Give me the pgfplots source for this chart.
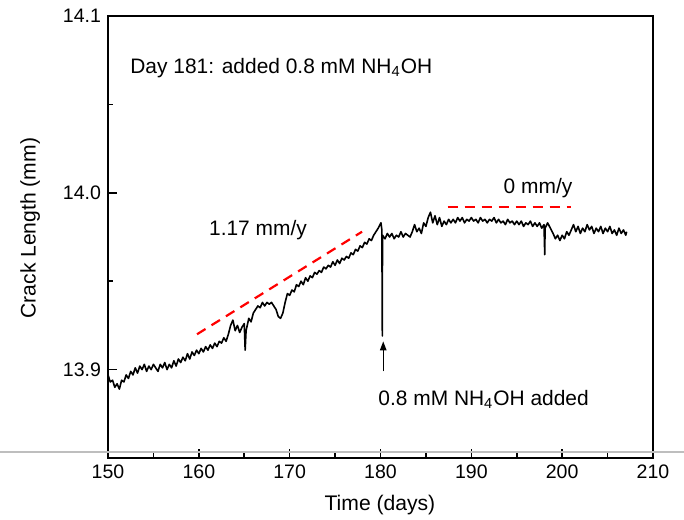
\documentclass[border=0pt]{standalone}
\usepackage{fontspec}
\setmainfont{Liberation Sans}
\usepackage{pgfplots}
\pgfplotsset{compat=1.18}
\usetikzlibrary{arrows.meta,calc}
\definecolor{rulegray}{RGB}{190,190,190}

\pgfplotstableread{
day len
150.00 13.897
150.25 13.893
150.50 13.894
150.75 13.890
151.00 13.892
151.25 13.889
151.50 13.894
151.75 13.893
152.00 13.897
152.25 13.895
152.50 13.899
152.75 13.897
153.00 13.901
153.25 13.898
153.50 13.902
153.75 13.900
154.00 13.903
154.25 13.899
154.50 13.902
154.75 13.900
155.00 13.903
155.25 13.901
155.50 13.899
155.75 13.903
156.00 13.901
156.25 13.904
156.50 13.900
156.75 13.903
157.00 13.901
157.25 13.905
157.50 13.902
157.75 13.906
158.00 13.904
158.25 13.907
158.50 13.905
158.75 13.909
159.00 13.906
159.25 13.910
159.50 13.908
159.75 13.911
160.00 13.909
160.25 13.912
160.50 13.910
160.75 13.913
161.00 13.911
161.25 13.914
161.50 13.912
161.75 13.915
162.00 13.913
162.25 13.916
162.50 13.915
162.75 13.918
163.00 13.916
163.25 13.920
163.50 13.925
163.75 13.928
164.00 13.922
164.25 13.925
164.50 13.921
164.75 13.924
165.00 13.926
165.10 13.911
165.20 13.922
165.50 13.929
165.75 13.927
166.00 13.932
166.25 13.934
166.50 13.936
166.75 13.935
167.00 13.938
167.25 13.936
167.50 13.938
167.75 13.937
168.00 13.938
168.25 13.936
168.50 13.934
168.75 13.930
169.00 13.929
169.25 13.932
169.50 13.938
169.75 13.943
170.00 13.942
170.25 13.945
170.50 13.944
170.75 13.948
171.00 13.947
171.25 13.950
171.50 13.948
171.75 13.952
172.00 13.950
172.25 13.953
172.50 13.952
172.75 13.955
173.00 13.954
173.25 13.956
173.50 13.955
173.75 13.958
174.00 13.957
174.25 13.959
174.50 13.958
174.75 13.961
175.00 13.959
175.25 13.962
175.50 13.960
175.75 13.963
176.00 13.962
176.25 13.964
176.50 13.963
176.75 13.966
177.00 13.965
177.25 13.968
177.50 13.967
177.75 13.970
178.00 13.969
178.25 13.972
178.50 13.971
178.75 13.974
179.00 13.973
179.25 13.976
179.50 13.978
179.75 13.980
180.05 13.983
180.15 13.979
180.20 13.919
180.22 13.976
180.50 13.974
180.75 13.977
181.00 13.975
181.25 13.977
181.50 13.974
181.75 13.976
182.00 13.975
182.25 13.978
182.50 13.975
182.75 13.977
183.00 13.976
183.25 13.975
183.50 13.978
183.75 13.982
184.00 13.978
184.25 13.980
184.50 13.977
184.75 13.983
185.00 13.981
185.25 13.986
185.50 13.989
185.75 13.983
186.00 13.987
186.25 13.982
186.50 13.986
186.75 13.981
187.00 13.984
187.25 13.982
187.50 13.985
187.75 13.983
188.00 13.985
188.25 13.983
188.50 13.986
188.75 13.984
189.00 13.986
189.25 13.983
189.50 13.985
189.75 13.984
190.00 13.986
190.25 13.984
190.50 13.985
190.75 13.983
191.00 13.986
191.25 13.984
191.50 13.985
191.75 13.983
192.00 13.985
192.25 13.984
192.50 13.986
192.75 13.983
193.00 13.985
193.25 13.983
193.50 13.984
193.75 13.982
194.00 13.985
194.25 13.983
194.50 13.984
194.75 13.982
195.00 13.984
195.25 13.982
195.50 13.984
195.75 13.981
196.00 13.983
196.25 13.982
196.50 13.984
196.75 13.981
197.00 13.983
197.25 13.981
197.50 13.983
197.75 13.980
198.00 13.982
198.08 13.965
198.12 13.980
198.40 13.983
198.60 13.981
198.80 13.979
199.00 13.977
199.25 13.974
199.50 13.976
199.75 13.973
200.00 13.976
200.25 13.974
200.50 13.978
200.75 13.976
201.00 13.979
201.25 13.982
201.50 13.978
201.75 13.981
202.00 13.977
202.25 13.980
202.50 13.978
202.75 13.982
203.00 13.979
203.25 13.981
203.50 13.977
203.75 13.980
204.00 13.978
204.25 13.981
204.50 13.977
204.75 13.980
205.00 13.978
205.25 13.981
205.50 13.977
205.75 13.979
206.00 13.976
206.25 13.980
206.50 13.977
206.75 13.979
207.00 13.976
207.10 13.978
}\cracktable

\begin{document}
\begin{tikzpicture}
\begin{axis}[
  scale only axis, width=272.5bp, height=221bp,
  xmin=150, xmax=210, ymin=13.85, ymax=14.1,
  xtick={150,160,...,210}, ytick={13.9,14.0,14.1},
  minor x tick num=1, minor y tick num=1,
  tick align=inside, tick pos=left,
  major tick length=4.5bp, minor tick length=2.3bp,
  axis line style={line width=0.9bp}, every tick/.style={line width=0.8bp, black},
  scaled y ticks=false,
  yticklabel style={/pgf/number format/.cd, fixed, fixed zerofill, precision=1},
  /pgf/number format/assume math mode=true,
  ticklabel style={font=\fontsize{9.8}{11}\selectfont},
  label style={font=\fontsize{10.6}{12}\selectfont},
  xlabel={Time (days)}, ylabel={Crack Length (mm)},
  xlabel style={at={(axis description cs:0.499,-0.106)}, anchor=center},
  ylabel style={at={(axis description cs:-0.143,0.52)}, anchor=center},
  clip=false,
]
\draw[rulegray, line width=0.8bp] (axis cs:138.11,13.8534) -- (axis cs:213.41,13.8534);
\addplot[black, line width=0.8bp, line join=round] table[x=day, y=len] {\cracktable};
\addplot[red, line width=1.1bp, dash pattern=on 5bp off 3.5bp] coordinates {(159.8,13.920) (177.97,13.978)};
\addplot[red, line width=1.1bp, dash pattern=on 5bp off 3.5bp] coordinates {(187.4,13.992) (201.0,13.992)};
\draw[line width=0.7bp, -{Triangle[length=4.5bp, width=3.2bp]}] (axis cs:180.3,13.899) -- (axis cs:180.3,13.916);
\begin{scope}[every node/.style={font=\fontsize{10.5}{12}\selectfont, inner sep=0pt}]
\node[anchor=west] at (axis cs:152.42,14.0706) {Day 181: added 0.8 mM NH\textsubscript{4}OH};
\node at (axis cs:166.51,13.979) {1.17 mm/y};
\node at (axis cs:197.34,14.0028) {0 mm/y};
\node[anchor=west] at (axis cs:179.73,13.883) {0.8 mM NH\textsubscript{4}OH added};
\end{scope}
\coordinate (sw) at (rel axis cs:0,0);
\coordinate (ne) at (rel axis cs:1,1);
\end{axis}
\pgfresetboundingbox
\useasboundingbox ($(sw)+(-54bp,-30.5bp)$) rectangle ($(ne)+(15.5bp,8bp)$);
\end{tikzpicture}
\end{document}
